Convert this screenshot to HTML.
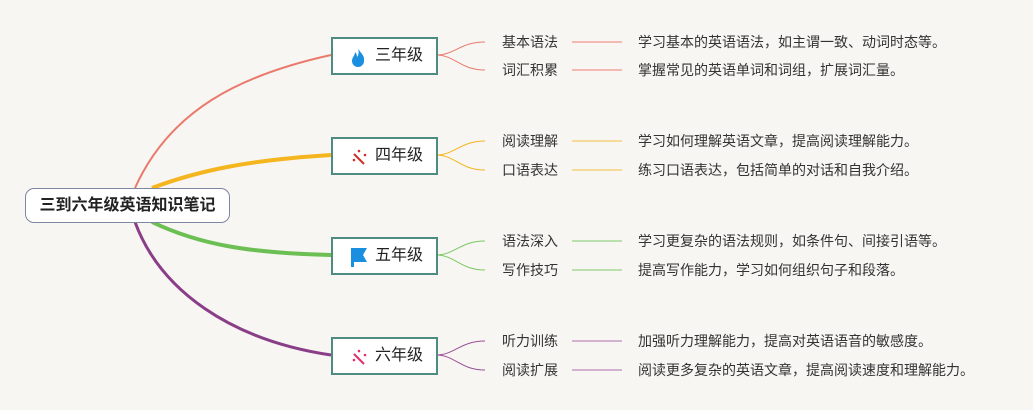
<!DOCTYPE html>
<html><head><meta charset="utf-8"><style>
body{margin:0;width:1033px;height:410px;background:#f7f6f3;overflow:hidden;position:relative;font-family:"Liberation Sans","Noto Sans CJK SC",sans-serif;}
.root{position:absolute;left:25px;top:188px;width:203px;height:33px;border:1.5px solid #7e86a0;border-radius:9px;background:#fff;font-size:16px;font-weight:bold;color:#222;text-align:center;line-height:33px;}
.g{position:absolute;left:331px;width:103px;height:34px;border:2px solid #4e8b80;background:#fff;font-size:16px;color:#222;line-height:34px;box-sizing:content-box;}
.g span{position:absolute;left:42px;}
.t{position:absolute;font-size:14px;color:#333;line-height:16px;}
</style></head><body>
<svg width="1033" height="410" style="position:absolute;left:0;top:0">
<g fill="none">
<path d="M135 188 C170 110 240 75 331 55" stroke="#ea7a6c" stroke-width="2"/>
<path d="M152 188 C200 170 250 160 331 155" stroke="#f4b51e" stroke-width="4"/>
<path d="M152 222 C200 245 250 253 331 255" stroke="#6cbf52" stroke-width="4"/>
<path d="M135 222 C160 290 230 340 331 355" stroke="#8a3e88" stroke-width="3"/>
<path d="M436 55 C455 55 460 42 485 42 M436 55 C455 55 460 70 485 70" stroke="#ea7a6c"/>
<path d="M436 155 C455 155 460 141 485 141 M436 155 C455 155 460 170 485 170" stroke="#f4b51e"/>
<path d="M436 255 C455 255 460 241 485 241 M436 255 C455 255 460 270 485 270" stroke="#7cc862"/>
<path d="M436 355 C455 355 460 341 485 341 M436 355 C455 355 460 370 485 370" stroke="#9a5196"/>
<path d="M572 42H622M572 70H622" stroke="#f0a59c" stroke-width="1.5"/>
<path d="M572 141H622M572 170H622" stroke="#f5d27a" stroke-width="1.5"/>
<path d="M572 241H622M572 270H622" stroke="#a8d896" stroke-width="1.5"/>
<path d="M572 341H622M572 370H622" stroke="#c79ac4" stroke-width="1.5"/>
</g></svg>
<div class="root">三到六年级英语知识笔记</div>
<div class="g" style="top:37px"><svg style="position:absolute;left:17px;top:8px" width="16" height="20"><path d="M8 1C10 6 15 8 14 14A6 6 0 0 1 2 14C2 10 5 9 5 5C7 7 7 9 7 10C9 8 9 4 8 1Z" fill="#1a8fe0"/></svg><span>三年级</span></div>
<div class="g" style="top:137px"><svg style="position:absolute;left:17px;top:9px" width="18" height="18"><path d="M4 6L14 16" stroke="#d0302a" stroke-width="2"/><circle cx="4" cy="12" r="1.3" fill="#d0302a"/><circle cx="9" cy="3" r="1.3" fill="#d0302a"/><circle cx="15" cy="7" r="1.3" fill="#d0302a"/></svg><span>四年级</span></div>
<div class="g" style="top:237px"><svg style="position:absolute;left:17px;top:8px" width="18" height="20"><path d="M1 1H17L13 8L17 15H4V20H1Z" fill="#1a8fe0"/></svg><span>五年级</span></div>
<div class="g" style="top:337px"><svg style="position:absolute;left:17px;top:9px" width="18" height="18"><path d="M4 6L14 16" stroke="#e0306a" stroke-width="2"/><circle cx="4" cy="12" r="1.3" fill="#e0306a"/><circle cx="9" cy="3" r="1.3" fill="#e0306a"/><circle cx="15" cy="7" r="1.3" fill="#e0306a"/></svg><span>六年级</span></div>
<div class="t" style="left:502px;top:34px">基本语法</div><div class="t" style="left:638px;top:34px">学习基本的英语语法，如主谓一致、动词时态等。</div>
<div class="t" style="left:502px;top:62px">词汇积累</div><div class="t" style="left:638px;top:62px">掌握常见的英语单词和词组，扩展词汇量。</div>
<div class="t" style="left:502px;top:133px">阅读理解</div><div class="t" style="left:638px;top:133px">学习如何理解英语文章，提高阅读理解能力。</div>
<div class="t" style="left:502px;top:162px">口语表达</div><div class="t" style="left:638px;top:162px">练习口语表达，包括简单的对话和自我介绍。</div>
<div class="t" style="left:502px;top:233px">语法深入</div><div class="t" style="left:638px;top:233px">学习更复杂的语法规则，如条件句、间接引语等。</div>
<div class="t" style="left:502px;top:262px">写作技巧</div><div class="t" style="left:638px;top:262px">提高写作能力，学习如何组织句子和段落。</div>
<div class="t" style="left:502px;top:333px">听力训练</div><div class="t" style="left:638px;top:333px">加强听力理解能力，提高对英语语音的敏感度。</div>
<div class="t" style="left:502px;top:362px">阅读扩展</div><div class="t" style="left:638px;top:362px">阅读更多复杂的英语文章，提高阅读速度和理解能力。</div>
</body></html>
